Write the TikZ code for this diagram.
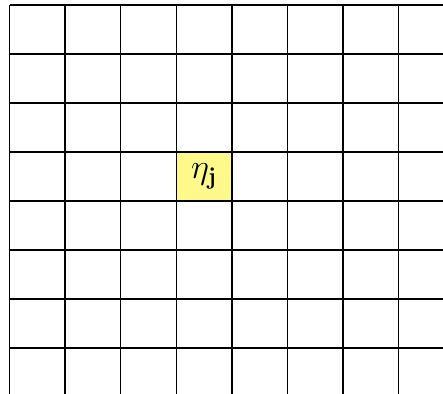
\documentclass[tikz,border=0pt]{standalone}
\usepackage{amsmath}
\begin{document}
\begin{tikzpicture}[x=0.9807cm, y=0.8643cm]
\useasboundingbox (-0.171,0.102) rectangle (7.797,-7.939);
\node (eta) at (3.5,-3.5) [fill=yellow!45, minimum width=0.9807cm, minimum height=0.8643cm, inner sep=0pt] {\LARGE $\eta_{\mathbf{j}}$};
\foreach \y in {0,...,7} {
    \draw[line width=0.7pt, black] (0,-\y) -- (7.797,-\y);
}
\foreach \x in {0,...,7} {
    \draw[line width=0.7pt, black] (\x,0) -- (\x,-7.939);
}
\end{tikzpicture}
\end{document}
